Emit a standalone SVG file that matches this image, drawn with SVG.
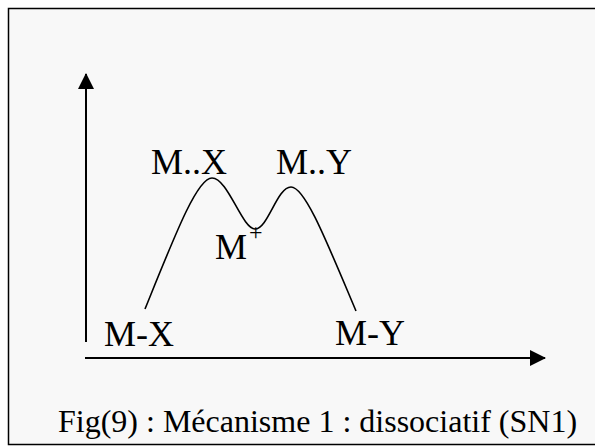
<svg xmlns="http://www.w3.org/2000/svg" width="595" height="447" viewBox="0 0 595 447">
<style>
.lbl{font-family:"Liberation Serif","Times New Roman",serif;font-size:36px;fill:#000}
.cap{font-family:"Liberation Serif","Times New Roman",serif;font-size:32px;fill:#000}
.axis{stroke:#000;stroke-width:2;fill:none}
.curve{stroke:#000;stroke-width:1.6;fill:none}
</style>
<defs>
<marker id="ah" viewBox="0 0 16 16" refX="15" refY="8" markerWidth="16" markerHeight="16" markerUnits="userSpaceOnUse" orient="auto">
<path d="M0,0 L16,8 L0,16 Z" fill="#000"/>
</marker>
</defs>
<rect x="0" y="0" width="595" height="447" fill="#fff"/>
<rect id="frame" x="8.5" y="8.5" width="600" height="436" fill="#f8f8f8" stroke="#000" stroke-width="1.5"/>
<g id="connectors">
<line class="axis" x1="86" y1="342" x2="86" y2="74" marker-end="url(#ah)"/>
<line class="axis" x1="85" y1="358" x2="545" y2="358" marker-end="url(#ah)"/>
<path class="curve" d="M145,309 C175,235 197,178 212,178 C228,178 242,229 255,229 C268,229 277,187 291,187 C305,187 326,240 356,311"/>
</g>
<g id="n-mx"><text class="lbl" x="104" y="346">M-X</text></g>
<g id="n-my"><text class="lbl" x="335" y="345">M-Y</text></g>
<g id="n-mdx"><text class="lbl" x="151" y="174">M..X</text></g>
<g id="n-mdy"><text class="lbl" x="276" y="174">M..Y</text></g>
<g id="n-mplus"><text class="lbl" x="215" y="259">M</text><text class="lbl" x="249" y="240" style="font-size:24px">+</text></g>
<g id="caption"><text class="cap" x="58" y="432">Fig(9) : Mécanisme 1 : dissociatif (SN1)</text></g>
</svg>
